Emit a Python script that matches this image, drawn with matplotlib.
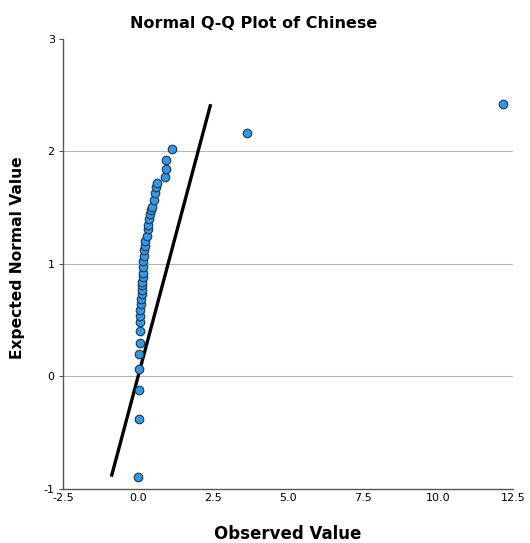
import matplotlib
matplotlib.use("Agg")
import matplotlib.pyplot as plt
import numpy as np

# Q-Q data
observed = [0.01, 0.02, 0.03, 0.03, 0.04, 0.05, 0.06, 0.07, 0.07, 0.08,
            0.09, 0.11, 0.12, 0.12, 0.13, 0.14, 0.15, 0.16, 0.18, 0.18,
            0.20, 0.21, 0.22, 0.24, 0.29, 0.32, 0.34, 0.38, 0.40, 0.43,
            0.46, 0.52, 0.56, 0.59, 0.62, 0.90, 0.93, 0.93, 1.12, 3.63,
            12.17]
expected = [-0.89, -0.38, -0.12, 0.07, 0.20, 0.30, 0.40, 0.48, 0.54, 0.59,
            0.64, 0.69, 0.73, 0.77, 0.81, 0.84, 0.88, 0.92, 0.97, 1.03,
            1.07, 1.12, 1.16, 1.20, 1.25, 1.31, 1.35, 1.40, 1.44, 1.48,
            1.51, 1.57, 1.63, 1.68, 1.72, 1.77, 1.84, 1.92, 2.02, 2.16,
            2.42]
line_mean = 0.0
line_sd = 1.0

x_ticks = [-2.5, 0.0, 2.5, 5.0, 7.5, 10.0, 12.5]
y_ticks = [-1, 0, 1, 2, 3]

plt.rcParams["font.family"] = ["DejaVu Sans"]

fig = plt.figure(figsize=(5.30, 5.43), dpi=100)
ax = fig.add_axes([0.119, 0.0994, 0.849, 0.829])

for y in [0, 1, 2]:
    ax.axhline(y, color="#b4b4b4", lw=0.8, zorder=0)

# reference line
ys = np.array([min(expected), max(expected)])
ax.plot(line_mean + line_sd * ys, ys, color="black", lw=2.4, zorder=2,
        solid_capstyle="butt")

ax.scatter(observed, expected, s=38, facecolor="#2f9be8",
           edgecolor="#1c3550", linewidths=0.8, zorder=3)

ax.set_xlim(-2.5, 12.5)
ax.set_ylim(-1, 3)
ax.set_xticks(x_ticks)
ax.set_xticklabels([f"{v:.1f}" for v in x_ticks])
ax.set_yticks(y_ticks)
ax.set_yticklabels([str(v) for v in y_ticks])
ax.tick_params(axis="x", length=0, labelsize=8, pad=3)
ax.tick_params(axis="y", length=3, width=0.8, color="#555555",
               labelsize=8, pad=3)

for name, spine in ax.spines.items():
    if name in ("left", "bottom"):
        spine.set_color("#555555")
        spine.set_linewidth(1.0)
    else:
        spine.set_visible(False)

fig.text(254 / 530, 1 - 23 / 543, "Normal Q-Q Plot of Chinese",
         fontsize=11.5, fontweight="bold", ha="center", va="center")
ax.set_xlabel("Observed Value", fontsize=12, fontweight="bold", labelpad=16)
ax.set_ylabel("Expected Normal Value", fontsize=11.2, fontweight="bold")
ax.yaxis.set_label_coords(-0.085, 0.513)

fig.savefig("out.png", dpi=100)
